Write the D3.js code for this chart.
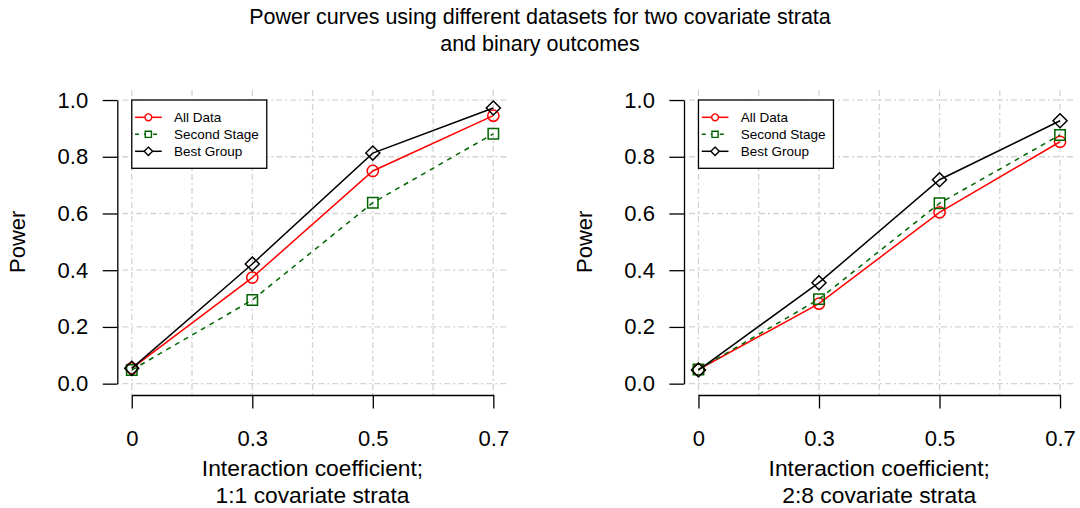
<!DOCTYPE html>
<html>
<head>
<meta charset="utf-8">
<script src="https://cdn.jsdelivr.net/npm/d3@7"></script>
<style>
  html, body { margin: 0; padding: 0; background: #fff; }
  svg { display: block; }
  text { font-family: "Liberation Sans", Arial, Helvetica, sans-serif; fill: #000; }
</style>
</head>
<body>
<svg id="chart" width="1080" height="508"></svg>
<script>
// Interaction coefficient values (plotted at equally spaced positions 1..4)
const xPositions = [1, 2, 3, 4];
const xTickLabels = ["0", "0.3", "0.5", "0.7"];
const yTicks = [0, 0.2, 0.4, 0.6, 0.8, 1.0];

// Left panel: 1:1 covariate strata
const allData11 = [0.054, 0.374, 0.750, 0.945];
const secondStage11 = [0.048, 0.295, 0.638, 0.881];
const bestGroup11 = [0.054, 0.422, 0.813, 0.972];

// Right panel: 2:8 covariate strata
const allData28 = [0.050, 0.282, 0.604, 0.853];
const secondStage28 = [0.050, 0.298, 0.636, 0.877];
const bestGroup28 = [0.048, 0.356, 0.719, 0.927];

const seriesNames = ["All Data", "Second Stage", "Best Group"];
const titleLines = ["Power curves using different datasets for two covariate strata", "and binary outcomes"];
const xTitles = [["Interaction coefficient;", "1:1 covariate strata"], ["Interaction coefficient;", "2:8 covariate strata"]];
const yTitle = "Power";

const svg = d3.select("#chart");
const FONT = 22;

const styles = [
  { color: "#ff0000", dash: null, shape: "circle" },
  { color: "#006400", dash: "5,5", shape: "square" },
  { color: "#000000", dash: null, shape: "diamond" }
];

function markerPath(shape, r) {
  if (shape === "circle") return d3.symbol(d3.symbolCircle, Math.PI * r * r)();
  if (shape === "square") return `M${-r},${-r}H${r}V${r}H${-r}Z`;
  const d = r * 1.35;
  return `M0,${-d}L${d},0L0,${d}L${-d},0Z`;
}

// Title
svg.append("g").selectAll("text").data(titleLines).join("text")
  .attr("x", 540).attr("y", (d, i) => 24 + i * 26.5)
  .attr("text-anchor", "middle").attr("font-size", 21.5)
  .text(d => d);

function drawPanel(left, seriesData, xt) {
  const plotRight = left + 390.5;
  const x = d3.scaleLinear().domain([0.88, 4.12]).range([left, plotRight]);
  const y = d3.scaleLinear().domain([-0.04, 1.04]).range([395, 88.7]);
  const g = svg.append("g");

  // Dot-dash grid
  const grid = g.append("g").attr("stroke", "#d3d3d3").attr("stroke-width", 1.3)
    .attr("stroke-dasharray", "2,3,6,3").attr("fill", "none");
  grid.selectAll("line.h").data(yTicks).join("line").attr("class", "h")
    .attr("x1", x(0.88)).attr("x2", x(4.12))
    .attr("y1", d => y(d)).attr("y2", d => y(d));
  grid.selectAll("line.v").data(d3.range(1, 4.01, 0.5)).join("line").attr("class", "v")
    .attr("y1", y(-0.04)).attr("y2", y(1.04))
    .attr("x1", d => x(d)).attr("x2", d => x(d));

  // Axes
  const yAxisScale = y.copy().domain([0, 1]).range([y(0), y(1)]);
  const yAxis = g.append("g").attr("transform", `translate(${left},0)`)
    .call(d3.axisLeft(yAxisScale).tickValues(yTicks).tickFormat(d3.format(".1f"))
      .tickSize(14.6).tickSizeOuter(0).tickPadding(14.5));
  const xAxisScale = x.copy().domain([1, 4]).range([x(1), x(4)]);
  const xAxis = g.append("g").attr("transform", `translate(0,${y(-0.04)})`)
    .call(d3.axisBottom(xAxisScale).tickValues(xPositions).tickFormat(d => xTickLabels[d - 1])
      .tickSize(13.5).tickSizeOuter(0).tickPadding(21.5));
  [yAxis, xAxis].forEach(a => {
    a.attr("font-family", null).attr("font-size", FONT);
    a.selectAll("path, line").attr("stroke", "#000").attr("stroke-width", 1.3);
    a.selectAll("text").attr("fill", "#000");
  });

  // Series lines and markers
  seriesData.forEach((vals, si) => {
    const st = styles[si];
    const pts = vals.map((v, i) => [xPositions[i], v]);
    g.append("path").datum(pts)
      .attr("fill", "none").attr("stroke", st.color).attr("stroke-width", 1.5)
      .attr("stroke-dasharray", st.dash)
      .attr("d", d3.line().x(d => x(d[0])).y(d => y(d[1])));
    g.selectAll(null).data(pts).join("path")
      .attr("transform", d => `translate(${x(d[0])},${y(d[1])})`)
      .attr("d", markerPath(st.shape, st.shape === "circle" ? 5.6 : 5.2))
      .attr("fill", "none").attr("stroke", st.color).attr("stroke-width", 1.5);
  });

  // Legend
  const lg = g.append("g").attr("transform", `translate(${x(1)},100)`);
  lg.append("rect").attr("x", 0).attr("y", 0).attr("width", 135).attr("height", 68.3)
    .attr("fill", "#fff").attr("stroke", "#000").attr("stroke-width", 1.3);
  seriesNames.forEach((name, si) => {
    const st = styles[si];
    const ry = 17.3 + si * 17;
    lg.append("line").attr("x1", 3.3).attr("x2", 30).attr("y1", ry).attr("y2", ry)
      .attr("stroke", st.color).attr("stroke-width", 1.5).attr("stroke-dasharray", st.dash ? "4,5" : null);
    lg.append("path").attr("transform", `translate(16.6,${ry})`)
      .attr("d", markerPath(st.shape, st.shape === "circle" ? 3.4 : 3.1))
      .attr("fill", "#fff").attr("stroke", st.color).attr("stroke-width", 1.4);
    lg.append("text").attr("x", 42.3).attr("y", ry).attr("dy", "0.35em")
      .attr("font-size", 13.5).text(name);
  });

  // Axis titles
  const cx = (x(1) + x(4)) / 2;
  g.selectAll("text.xt").data(xt).join("text").attr("class", "xt")
    .attr("x", cx).attr("y", (d, i) => 476 + i * 26.5)
    .attr("text-anchor", "middle").attr("font-size", 22.8).text(d => d);
  g.append("text").attr("transform", `translate(${left - 92},${(y(0) + y(1)) / 2}) rotate(-90)`)
    .attr("text-anchor", "middle").attr("font-size", FONT).text(yTitle);
}

drawPanel(117.3, [allData11, secondStage11, bestGroup11], xTitles[0]);
drawPanel(684, [allData28, secondStage28, bestGroup28], xTitles[1]);
</script>
</body>
</html>
